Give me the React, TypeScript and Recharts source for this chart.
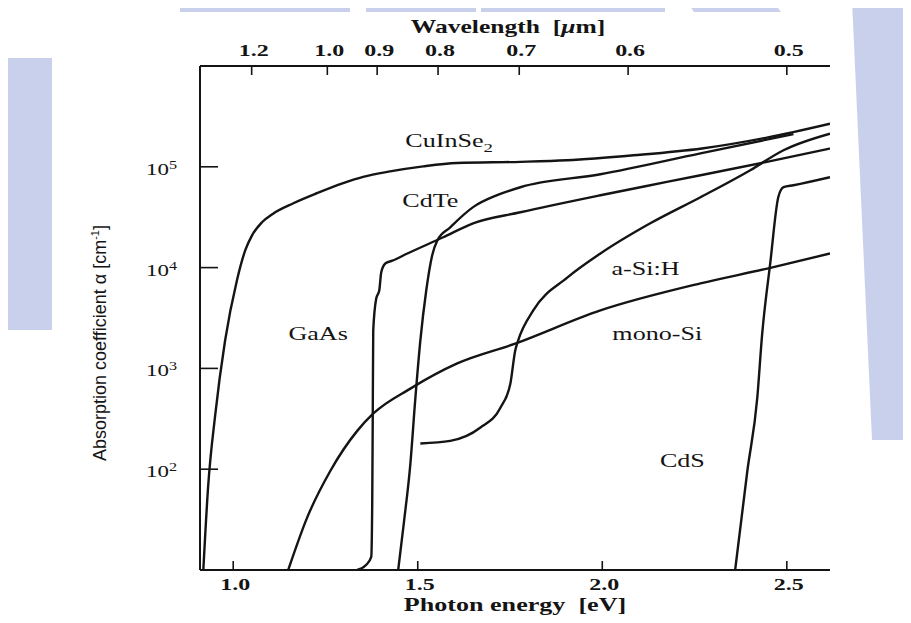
import React from 'react';
import { LineChart, Line, XAxis, YAxis, Customized } from 'recharts';

const SERIF = '"Liberation Serif", "Times New Roman", serif';
const NARROW = '"Liberation Sans Narrow", "Liberation Sans", "DejaVu Sans Condensed", sans-serif';
const INK = '#141414';
const WATERMARK = '#c8d0ec';

// Axes
const energyDomain = [0.91, 2.617];
const alphaDomain = [10, 1000000];
const energyTicks = [1.0, 1.5, 2.0, 2.5];
const energyTickLabels = ['1.0', '1.5', '2.0', '2.5'];
const wavelengthTickEnergies = [1.05, 1.255, 1.39, 1.555, 1.775, 2.07, 2.5];
const wavelengthTickLabels = ['1.2', '1.0', '0.9', '0.8', '0.7', '0.6', '0.5'];
const alphaTicks = [100, 1000, 10000, 100000];
const alphaTickExponents = ['2', '3', '4', '5'];

// Series (photon energy eV, absorption coefficient cm^-1)
const cuInSe2Energy = [0.919, 0.932, 0.951, 0.978, 1.01, 1.033, 1.051, 1.078, 1.108, 1.163, 1.227, 1.298, 1.352, 1.425, 1.515, 1.606, 1.778, 1.904, 2.085, 2.27, 2.446, 2.617];
const cuInSe2Alpha = [10, 67, 340, 1890, 7460, 15000, 20900, 28200, 34300, 43500, 54700, 68800, 79400, 90000, 101000, 109000, 112000, 116000, 130000, 152000, 195000, 268000];

const gaAsEnergy = [1.336, 1.36, 1.374, 1.3767, 1.378, 1.3794, 1.3875, 1.3957, 1.401, 1.412, 1.431, 1.472, 1.569, 1.65, 1.778, 1.995, 2.175, 2.446, 2.617];
const gaAsAlpha = [10, 11.2, 13.5, 48.5, 302, 2380, 4940, 5930, 8950, 11000, 11700, 13800, 20000, 27500, 35400, 52200, 70800, 112000, 152000];

const cdTeEnergy = [1.447, 1.463, 1.48, 1.493, 1.507, 1.523, 1.539, 1.553, 1.588, 1.65, 1.715, 1.778, 1.995, 2.266, 2.518];
const cdTeAlpha = [10, 30.7, 113, 479, 1890, 5930, 13200, 18600, 25100, 39800, 52300, 62700, 84300, 136000, 211000];

const aSiEnergy = [1.507, 1.588, 1.669, 1.724, 1.751, 1.764, 1.772, 1.813, 1.905, 1.995, 2.13, 2.266, 2.401, 2.491, 2.617];
const aSiAlpha = [180, 191, 258, 407, 708, 1500, 1890, 3760, 7940, 13800, 27500, 49900, 92500, 146000, 213000];

const monoSiEnergy = [1.149, 1.2, 1.263, 1.336, 1.379, 1.48, 1.607, 1.764, 1.995, 2.266, 2.447, 2.617];
const monoSiAlpha = [10, 32.9, 96, 240, 355, 630, 1120, 1760, 3760, 6970, 9780, 13800];

const cdSEnergy = [2.36, 2.393, 2.42, 2.433, 2.455, 2.477, 2.491, 2.518, 2.617];
const cdSAlpha = [10, 96, 513, 2150, 11000, 50100, 62700, 65600, 78900];

// Curve annotations
const labelNames = ['CuInSe', 'CdTe', 'GaAs', 'a-Si:H', 'mono-Si', 'CdS'];
const labelSubscripts = ['2', '', '', '', '', ''];
const labelEnergy = [1.585, 1.534, 1.23, 2.117, 2.149, 2.217];
const labelAlpha = [179000, 45500, 2170, 9770, 2170, 121];

const zip = (es: number[], as: number[]) => es.map((e, i) => ({ e, a: as[i] }));
const series = [
  zip(cuInSe2Energy, cuInSe2Alpha),
  zip(gaAsEnergy, gaAsAlpha),
  zip(cdTeEnergy, cdTeAlpha),
  zip(aSiEnergy, aSiAlpha),
  zip(monoSiEnergy, monoSiAlpha),
  zip(cdSEnergy, cdSAlpha),
];
const labelData = labelNames.map((n, i) => ({ e: labelEnergy[i], a: labelAlpha[i], name: n, sub: labelSubscripts[i] }));

const STRETCH = 1.5;

const BottomTick = (props: any) => {
  const { x, y, payload } = props;
  const i = energyTicks.indexOf(payload.value);
  return (
    <g>
      <line x1={x} x2={x} y1={y} y2={y - 9} stroke={INK} strokeWidth={1.6} />
      <text transform={`translate(${x + 2},${y + 20}) scale(${STRETCH},1)`} textAnchor="middle" fontFamily={SERIF} fontWeight="bold" fontSize={16} fill={INK}>
        {energyTickLabels[i]}
      </text>
    </g>
  );
};

const TopTick = (props: any) => {
  const { x, y, payload } = props;
  const i = wavelengthTickEnergies.indexOf(payload.value);
  return (
    <g>
      <line x1={x} x2={x} y1={y} y2={y + 9} stroke={INK} strokeWidth={1.6} />
      <text transform={`translate(${x + 2},${y - 10}) scale(${STRETCH},1)`} textAnchor="middle" fontFamily={SERIF} fontWeight="bold" fontSize={16} fill={INK}>
        {wavelengthTickLabels[i]}
      </text>
    </g>
  );
};

const LeftTick = (props: any) => {
  const { x, y, payload } = props;
  const i = alphaTicks.indexOf(payload.value);
  return (
    <g>
      <line x1={x} x2={x + 18} y1={y} y2={y} stroke={INK} strokeWidth={1.6} />
      <text transform={`translate(${x - 23},${y + 8}) scale(1.35,1)`} textAnchor="end" fontFamily={SERIF} fontSize={17} fill={INK}>
        10<tspan dy={-6} fontSize={12}>{alphaTickExponents[i]}</tspan>
      </text>
    </g>
  );
};

const CurveLabel = (props: any) => {
  const { cx, cy, payload } = props;
  if (cx == null || cy == null) return null;
  return (
    <text key={payload.name} transform={`translate(${cx},${cy + 6}) scale(1.45,1)`} textAnchor="middle" fontFamily={SERIF} fontSize={18} fill={INK}>
      {payload.name}
      {payload.sub ? <tspan dy={5} fontSize={13}>{payload.sub}</tspan> : null}
    </text>
  );
};

const Titles = () => (
  <g fill={INK}>
    <text transform="translate(500,25) scale(1.42,1)" textAnchor="middle" xmlSpace="preserve" fontFamily={SERIF} fontWeight="bold" fontSize={18}>
      {'Wavelength  ['}<tspan fontStyle="italic">μ</tspan>{'m]'}
    </text>
    <text transform="translate(507,603) scale(1.45,1)" textAnchor="middle" xmlSpace="preserve" fontFamily={SERIF} fontWeight="bold" fontSize={18}>
      {'Photon energy  [eV]'}
    </text>
    <text transform="translate(98,335) rotate(-90)" textAnchor="middle" fontFamily={NARROW} fontSize={18}>
      Absorption coefficient α [cm<tspan dy={-7} fontSize={11}>-1</tspan><tspan dy={7}>]</tspan>
    </text>
  </g>
);

// faint background watermark of the scanned page (page coordinates)
const Watermark = () => (
  <svg width={911} height={623} style={{ position: 'absolute', left: 0, top: 0 }}>
    <g fill={WATERMARK}>
      <rect x={180} y={0} width={170} height={12} />
      <rect x={366} y={0} width={110} height={12} />
      <rect x={481} y={0} width={184} height={12} />
      <polygon points="686,0 772,0 781,12 694,12" />
      <polygon points="852,0 911,0 911,440 872,440" />
      <rect x={0} y={58} width={52} height={272} />
    </g>
  </svg>
);

export default function App() {
  return (
    <div style={{ position: 'relative', width: 911, height: 623, margin: '-8px 0 0 -8px' }}>
      <Watermark />
      <div style={{ position: 'absolute', left: 8, top: 8 }}>
        <LineChart width={880} height={612} margin={{ top: 0, right: 58, bottom: 0, left: 0 }}>
          <XAxis
            xAxisId="bottom"
            orientation="bottom"
            type="number"
            dataKey="e"
            domain={energyDomain}
            ticks={energyTicks}
            interval={0}
            allowDataOverflow
            height={50}
            axisLine={{ stroke: INK, strokeWidth: 2 }}
            tickLine={false}
            tickSize={0}
            tickMargin={0}
            tick={BottomTick}
          />
          <XAxis
            xAxisId="top"
            orientation="top"
            type="number"
            dataKey="e"
            domain={energyDomain}
            ticks={wavelengthTickEnergies}
            interval={0}
            allowDataOverflow
            height={58}
            axisLine={{ stroke: INK, strokeWidth: 2 }}
            tickLine={false}
            tickSize={0}
            tickMargin={0}
            tick={TopTick}
          />
          <YAxis
            yAxisId="left"
            type="number"
            scale="log"
            domain={alphaDomain}
            ticks={alphaTicks}
            interval={0}
            allowDataOverflow
            width={192}
            axisLine={{ stroke: INK, strokeWidth: 2 }}
            tickLine={false}
            tickSize={0}
            tickMargin={0}
            tick={LeftTick}
          />
          <YAxis
            yAxisId="right"
            orientation="right"
            type="number"
            scale="log"
            domain={alphaDomain}
            allowDataOverflow
            width={0}
            tick={false}
            tickLine={false}
            axisLine={{ stroke: INK, strokeWidth: 2 }}
          />
          {series.map((d, i) => (
            <Line
              key={i}
              data={d}
              dataKey="a"
              xAxisId="bottom"
              yAxisId="left"
              type="monotone"
              stroke={INK}
              strokeWidth={2.4}
              dot={false}
              activeDot={false}
              isAnimationActive={false}
            />
          ))}
          <Line
            data={labelData}
            dataKey="a"
            xAxisId="bottom"
            yAxisId="left"
            stroke="none"
            dot={CurveLabel}
            activeDot={false}
            isAnimationActive={false}
          />
          <Customized component={Titles} />
        </LineChart>
      </div>
    </div>
  );
}
